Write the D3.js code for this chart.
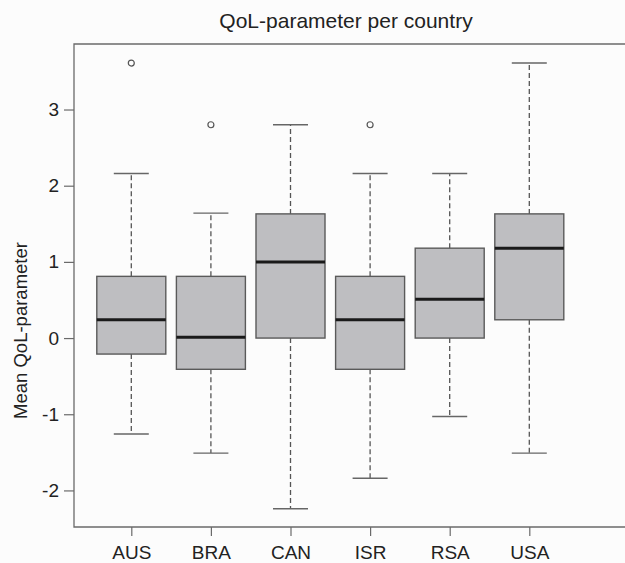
<!DOCTYPE html>
<html>
<head>
<meta charset="utf-8">
<script src="https://cdn.jsdelivr.net/npm/d3@7"></script>
<style>
  body { margin: 0; background: #fcfcfc; }
  svg { display: block; font-family: "Liberation Sans", Arial, sans-serif; }
</style>
</head>
<body>
<svg id="chart"></svg>
<script>
const countries = ["AUS", "BRA", "CAN", "ISR", "RSA", "USA"];
const lowerWhisker = [-1.26, -1.51, -2.24, -1.84, -1.03, -1.51];
const q1 = [-0.21, -0.41, 0.0, -0.41, 0.0, 0.24];
const median = [0.24, 0.01, 1.0, 0.24, 0.51, 1.18];
const q3 = [0.81, 0.81, 1.63, 0.81, 1.18, 1.63];
const upperWhisker = [2.16, 1.64, 2.8, 2.16, 2.16, 3.61];
const outliers = [[3.61], [2.8], [], [2.8], [], []];
const yTicks = [-2, -1, 0, 1, 2, 3];

const width = 625, height = 563;
const margin = { top: 44, left: 74, bottom: 527 };

const svg = d3.select("#chart").attr("width", width).attr("height", height);

const x = d3.scalePoint().domain(countries).range([131.3, 529.3]);
const y = d3.scaleLinear().domain([-2.48, 3.86]).range([margin.bottom, margin.top]);

const boxW = 69, capW = 35;
const frameColor = "#6a6a6a";

// frame (right edge falls outside the picture)
svg.append("path")
  .attr("d", `M${width + 5},${margin.top}H${margin.left}V${margin.bottom}H${width + 5}`)
  .attr("fill", "none")
  .attr("stroke", frameColor)
  .attr("stroke-width", 1.3);

// y axis, plain hyphen for negatives
const yAxis = svg.append("g")
  .attr("transform", `translate(${margin.left},0)`)
  .call(d3.axisLeft(y).tickValues(yTicks).tickSize(10).tickPadding(5)
    .tickFormat(d => (d < 0 ? "-" + Math.abs(d) : String(d))));
yAxis.select(".domain").remove();
yAxis.selectAll("line").attr("stroke", frameColor).attr("stroke-width", 1.2);
yAxis.selectAll("text").attr("font-size", 19).attr("fill", "#222")
  .attr("font-family", "Liberation Sans, Arial, sans-serif");

// x axis
const xAxis = svg.append("g")
  .attr("transform", `translate(0,${margin.bottom})`)
  .call(d3.axisBottom(x).tickSize(9).tickPadding(10));
xAxis.select(".domain").remove();
xAxis.selectAll("line").attr("stroke", frameColor).attr("stroke-width", 1.2);
xAxis.selectAll("text").attr("font-size", 19).attr("fill", "#222")
  .attr("font-family", "Liberation Sans, Arial, sans-serif");

// boxes
const stats = countries.map((c, i) => ({
  c, lo: lowerWhisker[i], q1: q1[i], med: median[i], q3: q3[i], hi: upperWhisker[i], out: outliers[i]
}));

const g = svg.append("g").selectAll("g").data(stats).join("g")
  .attr("transform", d => `translate(${x(d.c)},0)`);

// whiskers
g.append("line").attr("y1", d => y(d.q3)).attr("y2", d => y(d.hi))
  .attr("stroke", "#555").attr("stroke-width", 1.3).attr("stroke-dasharray", "5,3");
g.append("line").attr("y1", d => y(d.q1)).attr("y2", d => y(d.lo))
  .attr("stroke", "#555").attr("stroke-width", 1.3).attr("stroke-dasharray", "5,3");
g.append("line").attr("x1", -capW / 2).attr("x2", capW / 2)
  .attr("y1", d => y(d.hi)).attr("y2", d => y(d.hi))
  .attr("stroke", "#666").attr("stroke-width", 1.4);
g.append("line").attr("x1", -capW / 2).attr("x2", capW / 2)
  .attr("y1", d => y(d.lo)).attr("y2", d => y(d.lo))
  .attr("stroke", "#666").attr("stroke-width", 1.4);

g.append("rect")
  .attr("x", -boxW / 2).attr("width", boxW)
  .attr("y", d => y(d.q3)).attr("height", d => y(d.q1) - y(d.q3))
  .attr("fill", "#bebec1").attr("stroke", "#5a5a5a").attr("stroke-width", 1.4);

g.append("line").attr("x1", -boxW / 2).attr("x2", boxW / 2)
  .attr("y1", d => y(d.med)).attr("y2", d => y(d.med))
  .attr("stroke", "#1a1a1a").attr("stroke-width", 3);

g.selectAll("circle").data(d => d.out).join("circle")
  .attr("r", 3)
  .attr("cy", v => y(v))
  .attr("fill", "none").attr("stroke", "#555").attr("stroke-width", 1.2);

// title
svg.append("text")
  .attr("x", 346).attr("y", 28)
  .attr("text-anchor", "middle")
  .attr("font-size", 21).attr("fill", "#222")
  .text("QoL-parameter per country");

// y label
svg.append("text")
  .attr("transform", `translate(27,${(margin.top + margin.bottom) / 2 + 45}) rotate(-90)`)
  .attr("text-anchor", "middle")
  .attr("font-size", 18.5).attr("fill", "#222")
  .text("Mean QoL-parameter");
</script>
</body>
</html>
